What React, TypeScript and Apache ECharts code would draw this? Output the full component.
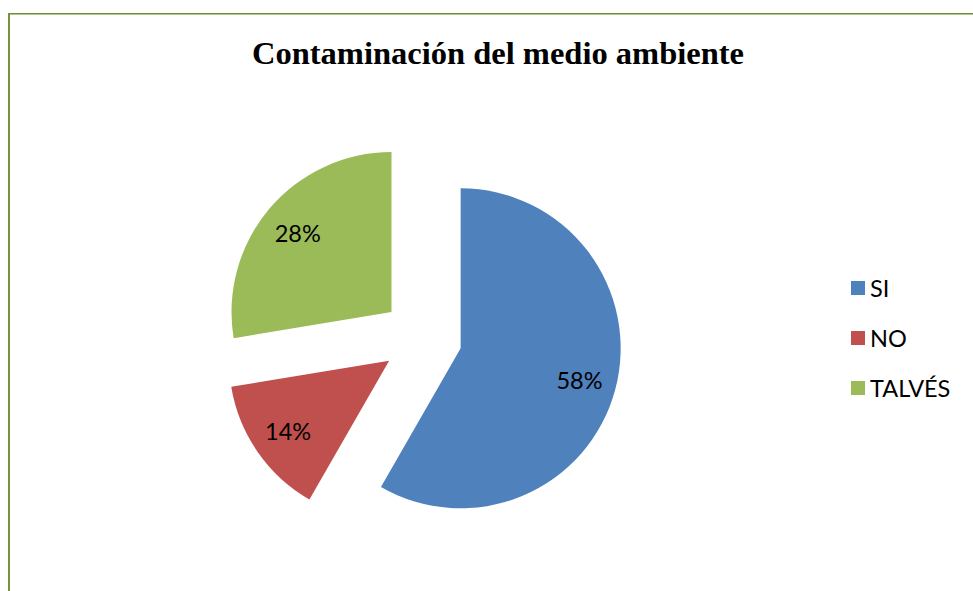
import React, { useEffect, useRef } from "react";
import * as echarts from "echarts";

const TITLE = "Contaminación del medio ambiente";
const categories = ["SI", "NO", "TALVÉS"];
const values = [58.3, 14.1, 27.6];
const colors = ["#4F81BD", "#C0504D", "#9BBB59"];

const LABEL_FONT = "Lato, 'Open Sans', sans-serif";
const PIE_RADIUS = 160;
const EXPLODE = 40;
const LABEL_PUSH = 40; // extra push of inner labels outward along each slice's mid angle

export default function App() {
  const ref = useRef<HTMLDivElement>(null);

  useEffect(() => {
    if (!ref.current) return;
    const chart = echarts.init(ref.current, undefined, { renderer: "svg" });

    const total = values.reduce((a, b) => a + b, 0);
    let acc = 0;
    const midAngles = values.map((v) => {
      const start = acc;
      acc += v;
      return ((start + v / 2) / total) * Math.PI * 2; // clockwise from 12 o'clock
    });

    chart.setOption({
      animation: false,
      backgroundColor: "#ffffff",
      title: {
        text: TITLE,
        left: 498,
        top: 36,
        textAlign: "center",
        padding: 0,
        textStyle: {
          fontFamily: "'Liberation Serif', 'Times New Roman', serif",
          fontWeight: "bold",
          fontSize: 32.5,
          color: "#000000",
        },
      },
      legend: {
        orient: "vertical",
        left: 851,
        top: 276,
        padding: 0,
        itemWidth: 14,
        itemHeight: 14,
        itemGap: 26,
        icon: "rect",
        data: categories,
        selectedMode: false,
        textStyle: {
          fontFamily: LABEL_FONT,
          fontSize: 23.5,
          color: "#000000",
        },
      },
      graphic: [
        { type: "rect", shape: { x: 8, y: 13, width: 965, height: 1 }, style: { fill: "#6F8E3C" }, silent: true },
        { type: "rect", shape: { x: 8, y: 14, width: 965, height: 1 }, style: { fill: "#AFC78E" }, silent: true },
        { type: "rect", shape: { x: 8, y: 13, width: 2, height: 578 }, style: { fill: "#77933C" }, silent: true },
      ],
      series: [
        {
          type: "pie",
          center: [422, 338],
          radius: PIE_RADIUS,
          startAngle: 90,
          clockwise: true,
          selectedMode: "multiple",
          selectedOffset: EXPLODE,
          percentPrecision: 0,
          avoidLabelOverlap: false,
          label: {
            show: true,
            position: "inside",
            formatter: "{d}%",
            fontFamily: LABEL_FONT,
            fontSize: 23.5,
            color: "#000000",
          },
          labelLine: { show: false },
          labelLayout: (p: any) => {
            const a = midAngles[p.dataIndex];
            return { dx: Math.sin(a) * LABEL_PUSH, dy: -Math.cos(a) * LABEL_PUSH };
          },
          emphasis: { disabled: true },
          data: categories.map((name, i) => ({
            name,
            value: values[i],
            selected: true,
            itemStyle: { color: colors[i], borderWidth: 0 },
            select: { itemStyle: { color: colors[i], borderWidth: 0 } },
          })),
        },
      ],
    });

    return () => chart.dispose();
  }, []);

  return (
    <div
      ref={ref}
      style={{ position: "fixed", left: 0, top: 0, width: 973, height: 591 }}
    />
  );
}
